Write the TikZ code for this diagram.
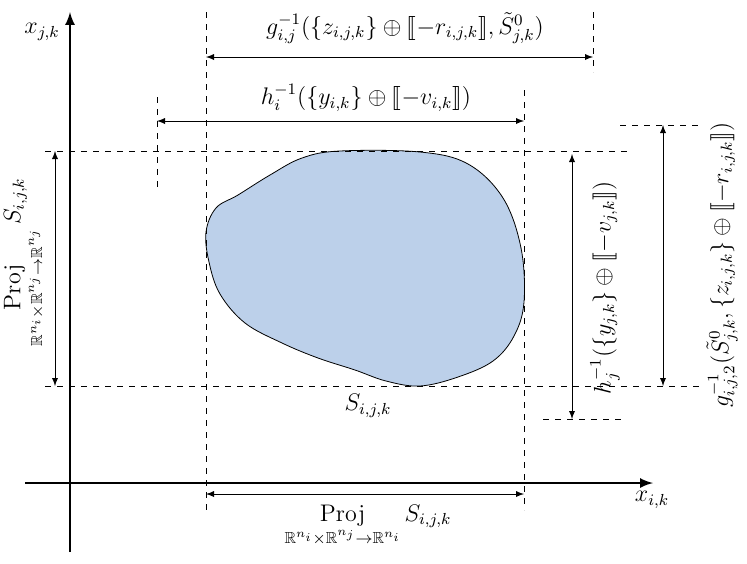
\documentclass[tikz,border=0pt]{standalone}
\usepackage{amsmath,amssymb,stmaryrd}
\definecolor{blobfill}{HTML}{BCD0EA}
\tikzset{
  guide/.style={dashed, thin},
  dimline/.style={latex-latex, thin},
  axis/.style={-latex, line width=1.2pt}
}
\begin{document}
\begin{tikzpicture}[x=0.5pt, y=-0.5pt, every node/.style={font=\large}]
    \useasboundingbox (0,0) rectangle (747,563);
    % axes
    \coordinate (yb) at (70,552);
    \coordinate (yt) at (70,12);
    \coordinate (xl) at (25,483);
    \coordinate (xr) at (653,483);
    \draw[axis] (yb) -- (yt);
    \draw[axis] (xl) -- (xr);
    \node (xjk) at (42,32) {$x_{j,k}$};
    \node (xik) at (652,500) {$x_{i,k}$};
    % the set
    \fill[blobfill] plot[smooth cycle, tension=0.6] coordinates {(206,232) (216,208) (238,195) (270,175) (302,158) (340,151) (420,152) (468,164) (503,198) (521,248) (524,302) (514,336) (493,361) (458,377) (420,386) (386,381) (355,370) (318,358) (282,343) (245,323) (220,294) (209,262)};
    \draw plot[smooth cycle, tension=0.6] coordinates {(206,232) (216,208) (238,195) (270,175) (302,158) (340,151) (420,152) (468,164) (503,198) (521,248) (524,302) (514,336) (493,361) (458,377) (420,386) (386,381) (355,370) (318,358) (282,343) (245,323) (220,294) (209,262)};
    \node (S) at (368,406) {$S_{i,j,k}$};
    % guides
    \draw[guide] (45,151) -- (628,151);
    \draw[guide] (45,386) -- (700,386);
    \draw[guide] (206,12) -- (206,510);
    \draw[guide] (524,90) -- (524,510);
    \draw[guide] (157,97) -- (157,188);
    \draw[guide] (593,12) -- (593,72);
    \draw[guide] (543,419) -- (625,419);
    \draw[guide] (620,125) -- (700,125);
    % g on top
    \coordinate (ga) at (206,57);
    \coordinate (gb) at (593,57);
    \draw[dimline] (ga) -- (gb);
    \node (glab) at (405,28) {$g_{i,j}^{-1}(\{z_{i,j,k}\}\oplus\llbracket -r_{i,j,k}\rrbracket,\tilde{S}^0_{j,k})$};
    % h_i
    \coordinate (ha) at (157,121);
    \coordinate (hb) at (524,121);
    \draw[dimline] (ha) -- (hb);
    \node (hlab) at (366,98) {$h_i^{-1}(\{y_{i,k}\}\oplus\llbracket -v_{i,k}\rrbracket)$};
    % left projection
    \coordinate (pa) at (55,151);
    \coordinate (pb) at (55,386);
    \draw[dimline] (pa) -- (pb);
    \node[rotate=90] (pjlab) at (25,262) {$\displaystyle\mathop{\mathrm{Proj}}_{\mathbb{R}^{n_i}\times\mathbb{R}^{n_j}\to\mathbb{R}^{n_j}} S_{i,j,k}$};
    % bottom projection
    \coordinate (qa) at (206,494);
    \coordinate (qb) at (524,494);
    \draw[dimline] (qa) -- (qb);
    \node (pilab) at (368,526) {$\displaystyle\mathop{\mathrm{Proj}}_{\mathbb{R}^{n_i}\times\mathbb{R}^{n_j}\to\mathbb{R}^{n_i}} S_{i,j,k}$};
    % h_j
    \coordinate (ra) at (572,154);
    \coordinate (rb) at (572,419);
    \draw[dimline] (ra) -- (rb);
    \node[rotate=90] (hjlab) at (605,288) {$h_j^{-1}(\{y_{j,k}\}\oplus\llbracket -v_{j,k}\rrbracket)$};
    % g on right
    \coordinate (sa) at (663,125);
    \coordinate (sb) at (663,386);
    \draw[dimline] (sa) -- (sb);
    \node[rotate=90] (g2lab) at (722,265) {$g_{i,j,2}^{-1}(\tilde{S}^0_{j,k},\{z_{i,j,k}\}\oplus\llbracket -r_{i,j,k}\rrbracket)$};
\end{tikzpicture}
\end{document}
